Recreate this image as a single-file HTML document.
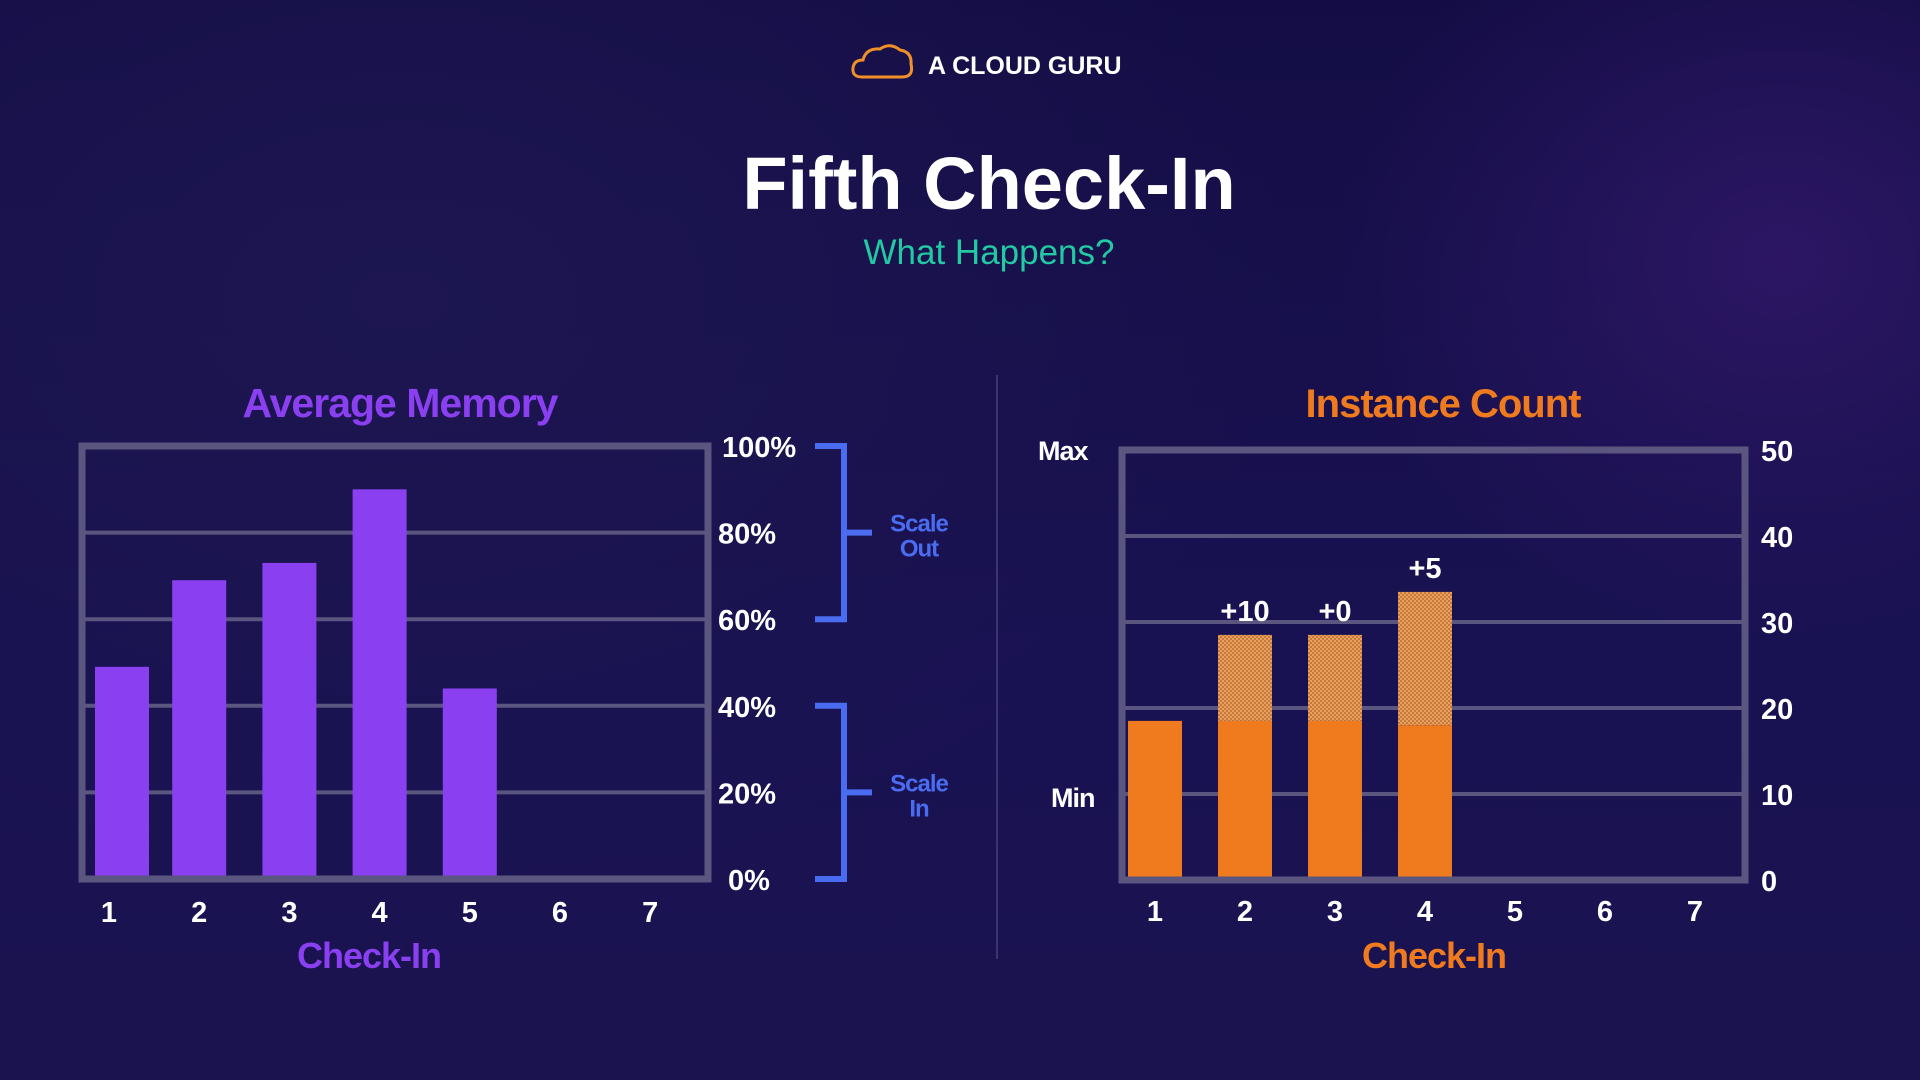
<!DOCTYPE html>
<html><head><meta charset="utf-8">
<style>
html,body{margin:0;padding:0;}
body{width:1920px;height:1080px;overflow:hidden;font-family:"Liberation Sans",sans-serif;
background:radial-gradient(ellipse 450px 380px at 1780px 260px,#2c1664 0%,rgba(40,20,90,0) 100%),
radial-gradient(ellipse 900px 600px at 400px 300px,#1d1650 0%,rgba(20,15,70,0) 100%),
linear-gradient(180deg,#140d45 0%,#191252 60%,#1a1350 100%);}
svg{position:absolute;left:0;top:0;}
</style></head><body>
<svg id="chart" width="1920" height="1080" viewBox="0 0 1920 1080">
 <g>
  <path d="M862 77 Q852 77 853 68 Q854 60 863 60 Q866 48 880 49 Q890 42 900 50 Q912 52 911 64 Q914 77 902 77 Z" fill="none" stroke="#f0902a" stroke-width="3"/>
  <text x="928" y="74" fill="#fff" font-size="25" font-weight="bold">A CLOUD GURU</text>
 </g>
 <text x="989" y="209" fill="#fff" font-size="74" font-weight="bold" text-anchor="middle">Fifth Check-In</text>
 <text x="989" y="264" fill="#22c9a2" font-size="35" text-anchor="middle">What Happens?</text>
 <line x1="997" y1="375" x2="997" y2="959" stroke="#3a3570" stroke-width="2"/>
 <g id="left"></g>
 <g id="right"></g>
</svg>
<script>
const memCategories=["1","2","3","4","5","6","7"];
const memValues=[49,69,73,90,44];
const memTicks=[0,20,40,60,80,100];
const instCategories=["1","2","3","4","5","6","7"];
const instBase=[18.5,18.5,18.5,18];
const instTotal=[18.5,28.5,28.5,33.5];
const instAddedLabels=["","+10","+0","+5"];
const instTicks=[0,10,20,30,40,50];

const NS="http://www.w3.org/2000/svg";
function mk(parent,tag,attrs,text){const e=document.createElementNS(NS,tag);for(const k in attrs)e.setAttribute(k,attrs[k]);if(text!==undefined)e.textContent=text;parent.appendChild(e);return e;}
const grid="#5b567f";

// LEFT
const L=document.getElementById('left');
const lx0=82,lx1=708,ly0=879,ly1=446;
const lx=i=>109+i*90.2;
const ly=v=>ly0-(v/100)*(ly0-ly1);
memTicks.forEach(t=>{
 if(t>0&&t<100){const g=mk(L,'line',{x1:lx0,x2:lx1,y1:ly(t),y2:ly(t),stroke:grid,'stroke-width':4});
 
 }
 const tx=mk(L,'text',{x:t===100?722:(t===0?728:718),y:ly(t)+11,fill:'#fff','font-size':29,'font-weight':'bold'},t+'%');
 
 
});
memValues.forEach((v,i)=>{
 const cx=i===0?122:lx(i);
 const r=mk(L,'rect',{x:cx-27,y:ly(v),width:54,height:ly(0)-ly(v),fill:'#8a3ff0'});
 
 
});
const lf=mk(L,'rect',{x:lx0,y:ly1,width:lx1-lx0,height:ly0-ly1,fill:'none',stroke:grid,'stroke-width':7});


memCategories.forEach((c,i)=>{
 const t=mk(L,'text',{x:lx(i),y:922,fill:'#fff','font-size':29,'font-weight':'bold','text-anchor':'middle'},c);
 
 
});
const lt=mk(L,'text',{x:400,y:417,fill:'#8a3ff0','font-size':41,'font-weight':'bold','text-anchor':'middle','letter-spacing':-1},'Average Memory');


const lxl=mk(L,'text',{x:369,y:968,fill:'#8a3ff0','font-size':36,'font-weight':'bold','text-anchor':'middle','letter-spacing':-1},'Check-In');


[[ly(100),ly(60),'Scale','Out','scale-out-bracket'],[ly(40),ly(0),'Scale','In','scale-in-bracket']].forEach(b=>{
 const [a,z,t1,t2,n]=b;const m=(a+z)/2;
 const p=mk(L,'path',{d:`M815 ${a} H844 V${z} H815 M844 ${m} H872`,fill:'none',stroke:'#4a6cf0','stroke-width':6});
 
 
 const tt=mk(L,'text',{x:919,y:m-1,fill:'#4a6cf0','font-size':24,'font-weight':'bold','text-anchor':'middle','letter-spacing':-1},t1);
 
 
 const t3=mk(L,'text',{x:919,y:m+24,fill:'#4a6cf0','font-size':24,'font-weight':'bold','text-anchor':'middle','letter-spacing':-1},t2);
 
 
});

// RIGHT
const R=document.getElementById('right');
const defs=mk(R,'defs',{});
const pat=mk(defs,'pattern',{id:'hatch',width:4,height:4,patternUnits:'userSpaceOnUse'});
mk(pat,'rect',{width:4,height:4,fill:'#e8a060'});
mk(pat,'rect',{width:2,height:2,fill:'#c77a3a'});
mk(pat,'rect',{x:2,y:2,width:2,height:2,fill:'#c77a3a'});
const rx0=1122,rx1=1745,ry0=880,ry1=450;
const rx=i=>1155+i*90;
const ry=v=>ry0-(v/50)*(ry0-ry1);
instTicks.forEach(t=>{
 if(t>0&&t<50){const g=mk(R,'line',{x1:rx0,x2:rx1,y1:ry(t),y2:ry(t),stroke:grid,'stroke-width':4});
 
 }
 const tx=mk(R,'text',{x:1761,y:ry(t)+11,fill:'#fff','font-size':29,'font-weight':'bold'},String(t));
 
 
});
instBase.forEach((v,i)=>{
 const x=rx(i)-27;
 const r=mk(R,'rect',{x:x,y:ry(v),width:54,height:ry(0)-ry(v),fill:'#f07b1e'});
 
 
 const top=instTotal[i];
 if(top>v){
  const h=mk(R,'rect',{x:x,y:ry(top),width:54,height:ry(v)-ry(top),fill:'url(#hatch)'});
  
  
 }
 if(instAddedLabels[i]){
  const lb=mk(R,'text',{x:x+27,y:ry(top)-14,fill:'#fff','font-size':29,'font-weight':'bold','text-anchor':'middle'},instAddedLabels[i]);
  
  
 }
});
const rf=mk(R,'rect',{x:rx0,y:ry1,width:rx1-rx0,height:ry0-ry1,fill:'none',stroke:grid,'stroke-width':7});


instCategories.forEach((c,i)=>{
 const t=mk(R,'text',{x:rx(i),y:921,fill:'#fff','font-size':29,'font-weight':'bold','text-anchor':'middle'},c);
 
 
});
const mx=mk(R,'text',{x:1038,y:460,fill:'#fff','font-size':27,'font-weight':'bold','letter-spacing':-1},'Max');


const mn=mk(R,'text',{x:1051,y:807,fill:'#fff','font-size':27,'font-weight':'bold','letter-spacing':-1},'Min');


const rt=mk(R,'text',{x:1443,y:417,fill:'#f07b1e','font-size':40,'font-weight':'bold','text-anchor':'middle','letter-spacing':-1},'Instance Count');


const rxl=mk(R,'text',{x:1434,y:968,fill:'#f07b1e','font-size':36,'font-weight':'bold','text-anchor':'middle','letter-spacing':-1},'Check-In');


</script>
</body></html>
